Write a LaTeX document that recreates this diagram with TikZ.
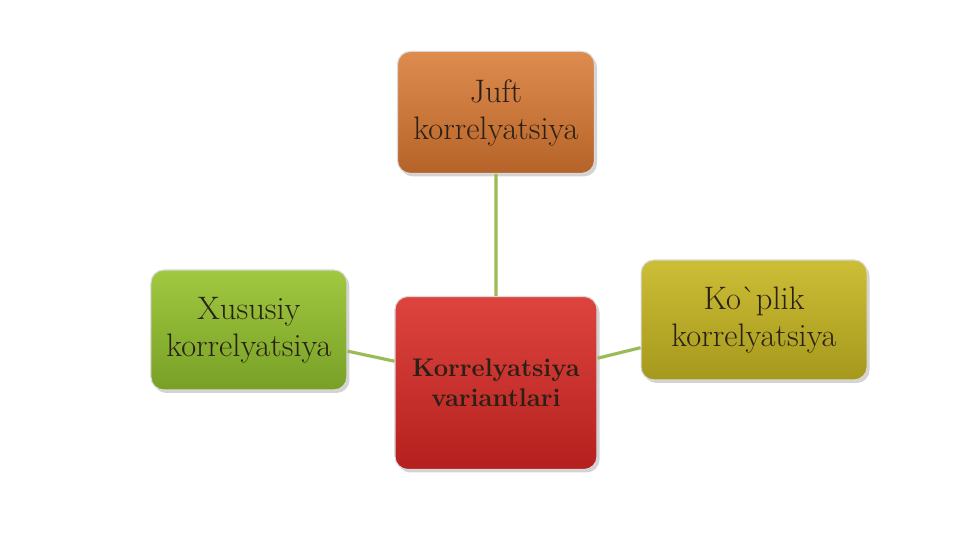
\documentclass[tikz,border=0pt]{standalone}
\usepackage{tikz}
\usetikzlibrary{positioning, shadows}
\definecolor{linkgreen}{HTML}{9BBB59}
\definecolor{boxtext}{HTML}{2A2016}
\tikzset{
variant/.style={rectangle, rounded corners=0.26cm, minimum height=2.4cm, align=center, text=boxtext, draw=white!70!gray, line width=0.6pt, drop shadow={shadow xshift=0.05cm, shadow yshift=-0.06cm, opacity=0.35}, font=\fontsize{18.5}{21}\selectfont}, % common look of every box
link/.style={draw=linkgreen, line width=1.8pt}, % the plain connectors
}
\begin{document}
\begin{tikzpicture}
    \useasboundingbox (-9.92,7.66) rectangle (9.30,-3.14);
    \node[variant, minimum width=4.04cm, minimum height=3.46cm, top color={rgb,255:red,222;green,68;blue,62}, bottom color={rgb,255:red,180;green,32;blue,30}, font=\fontsize{14.5}{17}\selectfont\bfseries] (center) {Korrelyatsiya\\variantlari};
    \node[variant, minimum width=3.94cm, minimum height=2.44cm, above=2.44cm of center, top color={rgb,255:red,222;green,140;blue,78}, bottom color={rgb,255:red,181;green,99;blue,40}] (juft) {Juft\\korrelyatsiya};
    \node[variant, minimum width=3.92cm, left=0.94cm of center, yshift=1.06cm, top color={rgb,255:red,160;green,200;blue,64}, bottom color={rgb,255:red,120;green,160;blue,38}] (xususiy) {Xususiy\\korrelyatsiya};
    \node[variant, minimum width=4.52cm, right=0.86cm of center, yshift=1.26cm, top color={rgb,255:red,204;green,190;blue,54}, bottom color={rgb,255:red,166;green,152;blue,28}] (koplik) {Ko\textasciigrave plik\\korrelyatsiya};
    \draw[link]
    (center) -- (juft)
    (center) -- (xususiy)
    (center) -- (koplik);
  \end{tikzpicture}
\end{document}
